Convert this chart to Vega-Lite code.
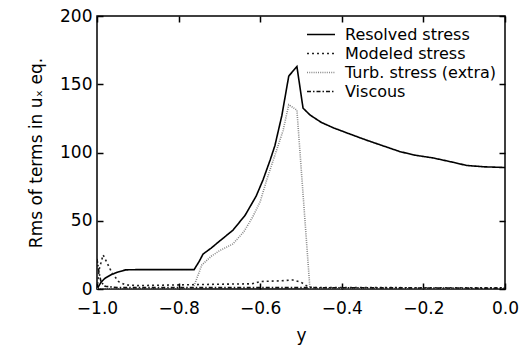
{
  "$schema": "https://vega.github.io/schema/vega-lite/v6.json",
  "autosize": {"type": "none"},
  "padding": {"left": 97, "top": 16, "right": 16, "bottom": 67},
  "width": 408,
  "height": 273,
  "background": "white",
  "config": {
    "font": "DejaVu Sans",
    "view": {"stroke": "black", "strokeWidth": 1.5},
    "axis": {"grid": false, "domain": false, "tickColor": "black", "tickWidth": 1.5, "labelColor": "black", "titleColor": "black", "labelFontSize": 17, "titleFontSize": 17, "titleFontWeight": "normal", "labelFont": "DejaVu Sans", "titleFont": "DejaVu Sans", "labelFlush": false, "labelOverlap": false, "titleLimit": 400}
  },
  "data": {"values": [
    {"series": "Resolved stress", "pos": -1.0, "value": 0},
    {"series": "Resolved stress", "pos": -0.99, "value": 5},
    {"series": "Resolved stress", "pos": -0.98, "value": 8},
    {"series": "Resolved stress", "pos": -0.965, "value": 10.5},
    {"series": "Resolved stress", "pos": -0.95, "value": 12.3},
    {"series": "Resolved stress", "pos": -0.93, "value": 14},
    {"series": "Resolved stress", "pos": -0.9, "value": 14.2},
    {"series": "Resolved stress", "pos": -0.85, "value": 14.2},
    {"series": "Resolved stress", "pos": -0.8, "value": 14.2},
    {"series": "Resolved stress", "pos": -0.762, "value": 14.2},
    {"series": "Resolved stress", "pos": -0.75, "value": 20},
    {"series": "Resolved stress", "pos": -0.74, "value": 25.6},
    {"series": "Resolved stress", "pos": -0.72, "value": 30},
    {"series": "Resolved stress", "pos": -0.7, "value": 35},
    {"series": "Resolved stress", "pos": -0.667, "value": 43},
    {"series": "Resolved stress", "pos": -0.637, "value": 54},
    {"series": "Resolved stress", "pos": -0.61, "value": 68},
    {"series": "Resolved stress", "pos": -0.593, "value": 80},
    {"series": "Resolved stress", "pos": -0.575, "value": 95},
    {"series": "Resolved stress", "pos": -0.564, "value": 105},
    {"series": "Resolved stress", "pos": -0.547, "value": 127},
    {"series": "Resolved stress", "pos": -0.53, "value": 156},
    {"series": "Resolved stress", "pos": -0.51, "value": 163},
    {"series": "Resolved stress", "pos": -0.495, "value": 132.5},
    {"series": "Resolved stress", "pos": -0.478, "value": 127.5},
    {"series": "Resolved stress", "pos": -0.45, "value": 122},
    {"series": "Resolved stress", "pos": -0.42, "value": 118},
    {"series": "Resolved stress", "pos": -0.38, "value": 113.5},
    {"series": "Resolved stress", "pos": -0.339, "value": 109},
    {"series": "Resolved stress", "pos": -0.3, "value": 105},
    {"series": "Resolved stress", "pos": -0.257, "value": 100.6},
    {"series": "Resolved stress", "pos": -0.22, "value": 98},
    {"series": "Resolved stress", "pos": -0.176, "value": 96},
    {"series": "Resolved stress", "pos": -0.13, "value": 93},
    {"series": "Resolved stress", "pos": -0.094, "value": 90.5},
    {"series": "Resolved stress", "pos": -0.05, "value": 89.5},
    {"series": "Resolved stress", "pos": 0.0, "value": 89},
    {"series": "Modeled stress", "pos": -1.0, "value": 0},
    {"series": "Modeled stress", "pos": -0.995, "value": 14},
    {"series": "Modeled stress", "pos": -0.985, "value": 25},
    {"series": "Modeled stress", "pos": -0.975, "value": 19},
    {"series": "Modeled stress", "pos": -0.963, "value": 11.7},
    {"series": "Modeled stress", "pos": -0.947, "value": 5.4},
    {"series": "Modeled stress", "pos": -0.93, "value": 3},
    {"series": "Modeled stress", "pos": -0.9, "value": 2.5},
    {"series": "Modeled stress", "pos": -0.8, "value": 3},
    {"series": "Modeled stress", "pos": -0.7, "value": 3.5},
    {"series": "Modeled stress", "pos": -0.62, "value": 3.8},
    {"series": "Modeled stress", "pos": -0.6, "value": 5.5},
    {"series": "Modeled stress", "pos": -0.55, "value": 6},
    {"series": "Modeled stress", "pos": -0.52, "value": 6.6},
    {"series": "Modeled stress", "pos": -0.5, "value": 5},
    {"series": "Modeled stress", "pos": -0.48, "value": 1.2},
    {"series": "Modeled stress", "pos": -0.45, "value": 1},
    {"series": "Modeled stress", "pos": -0.3, "value": 1},
    {"series": "Modeled stress", "pos": 0.0, "value": 0.8},
    {"series": "Turb. stress (extra)", "pos": -1.0, "value": 0},
    {"series": "Turb. stress (extra)", "pos": -0.765, "value": 0},
    {"series": "Turb. stress (extra)", "pos": -0.743, "value": 17.6},
    {"series": "Turb. stress (extra)", "pos": -0.72, "value": 24},
    {"series": "Turb. stress (extra)", "pos": -0.7, "value": 28},
    {"series": "Turb. stress (extra)", "pos": -0.667, "value": 33},
    {"series": "Turb. stress (extra)", "pos": -0.64, "value": 42},
    {"series": "Turb. stress (extra)", "pos": -0.618, "value": 53},
    {"series": "Turb. stress (extra)", "pos": -0.6, "value": 64},
    {"series": "Turb. stress (extra)", "pos": -0.584, "value": 80},
    {"series": "Turb. stress (extra)", "pos": -0.564, "value": 98},
    {"series": "Turb. stress (extra)", "pos": -0.544, "value": 116},
    {"series": "Turb. stress (extra)", "pos": -0.53, "value": 135},
    {"series": "Turb. stress (extra)", "pos": -0.51, "value": 131},
    {"series": "Turb. stress (extra)", "pos": -0.478, "value": 0},
    {"series": "Turb. stress (extra)", "pos": 0.0, "value": 0},
    {"series": "Viscous", "pos": -1.0, "value": 22},
    {"series": "Viscous", "pos": -0.995, "value": 12},
    {"series": "Viscous", "pos": -0.99, "value": 5},
    {"series": "Viscous", "pos": -0.98, "value": 2},
    {"series": "Viscous", "pos": -0.95, "value": 1},
    {"series": "Viscous", "pos": -0.5, "value": 1},
    {"series": "Viscous", "pos": 0.0, "value": 0.6}
  ]},
  "resolve": {"axis": {"x": "independent", "y": "independent"}},
  "layer": [
    {
      "mark": {"type": "line", "clip": true},
      "encoding": {
        "x": {"field": "pos", "type": "quantitative", "scale": {"domain": [-1, 0], "nice": false, "zero": false},
              "axis": {"values": [-1, -0.8, -0.6, -0.4, -0.2, 0], "format": ".1f", "tickSize": -6, "labelPadding": 17, "title": "y", "titlePadding": 11, "titleFontSize": 17}},
        "y": {"field": "value", "type": "quantitative", "scale": {"domain": [0, 200], "nice": false},
              "axis": {"values": [0, 50, 100, 150, 200], "tickSize": -6, "labelPadding": 11, "title": "Rms of terms in uₓ eq.", "titlePadding": 14, "titleFontSize": 17}},
        "color": {"field": "series", "type": "nominal",
                  "scale": {"domain": ["Resolved stress", "Modeled stress", "Turb. stress (extra)", "Viscous"], "range": ["#000000", "#222222", "#888888", "#111111"]},
                  "legend": {"orient": "none", "legendX": 209, "legendY": 9, "title": null, "symbolType": "stroke", "symbolSize": 784, "symbolStrokeWidth": 1.5, "labelFontSize": 16, "labelColor": "black", "labelFont": "DejaVu Sans", "labelLimit": 400, "rowPadding": 0, "clipHeight": 19, "labelOffset": 9}},
        "strokeDash": {"field": "series", "type": "nominal",
                  "scale": {"domain": ["Resolved stress", "Modeled stress", "Turb. stress (extra)", "Viscous"], "range": [[1, 0], [2, 3], [1, 1.2], [4, 2, 1.5, 2]]},
                  "legend": null},
        "strokeWidth": {"field": "series", "type": "nominal",
                  "scale": {"domain": ["Resolved stress", "Modeled stress", "Turb. stress (extra)", "Viscous"], "range": [1.6, 1.6, 1, 1.2]},
                  "legend": null},
        "order": {"field": "pos", "type": "quantitative"}
      }
    },
    {
      "mark": {"type": "line", "opacity": 0},
      "encoding": {
        "x": {"field": "pos", "type": "quantitative", "axis": {"orient": "top", "values": [-1, -0.8, -0.6, -0.4, -0.2, 0], "tickSize": -6, "labels": false, "title": null}},
        "y": {"field": "value", "type": "quantitative", "axis": {"orient": "right", "values": [0, 50, 100, 150, 200], "tickSize": -6, "labels": false, "title": null}},
        "detail": {"field": "series", "type": "nominal"}
      }
    }
  ]
}
